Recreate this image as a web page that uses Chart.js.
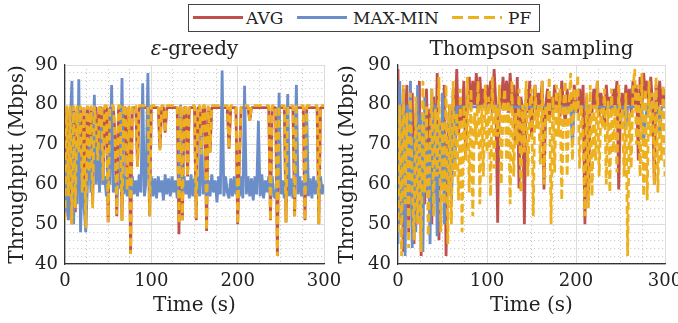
<!DOCTYPE html>
<html>
<head>
<meta charset="utf-8">
<script src="https://cdn.jsdelivr.net/npm/chart.js@4.4.1/dist/chart.umd.min.js"></script>
<style>
  html, body { margin: 0; padding: 0; background: #fff; overflow: hidden; }
  body { width: 678px; height: 323px; position: relative; font-family: "DejaVu Serif", "Liberation Serif", serif; }
  .panel { position: absolute; top: 0; height: 323px; }
  #legend { position: absolute; left: 188px; top: 4px; width: 352px; height: 28px; box-sizing: border-box;
            border: 1px solid #444; background: #fff; z-index: 5; font-size: 17px; color: #222; }
  .key { position: absolute; top: 11px; height: 2.5px; width: 50px; }
  .lab { position: absolute; top: 1px; line-height: 24px; }
</style>
</head>
<body>
<div id="legend">
  <div class="key" style="left:4px;background:#C0504D"></div><div class="lab" style="left:57px">AVG</div>
  <div class="key" style="left:108px;background:#6C8EC8"></div><div class="lab" style="left:164px">MAX-MIN</div>
  <div class="key" style="left:263px;background:repeating-linear-gradient(to right,#EDB120 0 11px,transparent 11px 16px)"></div><div class="lab" style="left:319px">PF</div>
</div>
<div class="panel" style="left:0;width:345px"><canvas id="epsChart"></canvas></div>
<div class="panel" style="left:332px;width:354px"><canvas id="tsChart"></canvas></div>
<script>
const STEP = 2; // seconds between samples
const FONT = '"DejaVu Serif", "Liberation Serif", serif';

// epsilon-greedy
const avgEps = [
  52, 79.3, 56, 79.3, 50, 79.3, 53, 79.3, 70, 79.3,
  57, 79.3, 49, 79.3, 62, 79.3, 55, 79.3, 79.3, 66,
  79.3, 79.3, 60, 79.3, 79.3, 50.5, 79.3, 79.3, 79.3, 72,
  52, 79.3, 79.3, 51, 79.3, 79.3, 59, 79.3, 42.5, 79.3,
  79.3, 79.3, 64.5, 79.3, 79.3, 79.3, 79.3, 79.3, 79.3, 52,
  79.3, 79.3, 79.3, 79.3, 79.3, 69, 79.3, 79.3, 73, 79.3,
  79.3, 79.3, 79.3, 79.3, 79.3, 79.3, 47.5, 79.3, 51, 79.3,
  79.3, 62, 79.3, 79.3, 79.3, 79.3, 51, 79.3, 79.3, 67.5,
  79.3, 79.3, 48.3, 79.3, 68, 79.3, 79.3, 79.3, 79.3, 79.3,
  79.3, 79.3, 79.3, 79.3, 79.3, 69, 79.3, 79.3, 79.3, 79.3,
  50, 66, 79.3, 79.3, 79.3, 79.3, 79.3, 76, 79.3, 79.3,
  79.3, 79.3, 79.3, 79.3, 79.3, 79.3, 79.3, 79.3, 79.3, 51,
  79.3, 79.3, 79.3, 42, 79.3, 79.3, 79.3, 79.3, 50.5, 79.3,
  79.3, 79.3, 79.3, 52, 79.3, 79.3, 79.3, 79.3, 79.3, 51,
  79.3, 79.3, 79.3, 79.3, 79.3, 79.3, 79.3, 50, 79.3, 79.3,
  79.3
];
const maxMinEps = [
  52, 66, 51, 74, 86, 50, 70, 55, 86.4, 48,
  62, 55, 48, 60, 72, 58, 65, 82.5, 60, 70,
  58, 75, 60, 62, 57, 68, 60, 85, 58, 62,
  57, 60, 59, 86.7, 57.5, 62, 57, 61.5, 56.5, 62,
  57.5, 61, 57, 62.5, 58, 85.4, 57, 61, 88, 57.5,
  62, 57, 61.5, 56.5, 62, 58, 61, 56, 62.5, 57.5,
  61.5, 57, 62, 58, 61, 56.5, 62, 80, 57, 62,
  57.5, 61, 56.5, 62.5, 57, 61.5, 58, 62, 57, 74.6,
  57.5, 62, 56.5, 61, 57, 62.5, 58, 61, 55.5, 62,
  57.5, 88.6, 57, 62, 58, 56.5, 61.5, 57, 62, 57.5,
  61.5, 57, 62, 56.5, 84.8, 57.5, 62, 57, 61.5, 56,
  62, 57.5, 76, 57, 62.5, 56.5, 61, 58, 62, 57,
  62, 57, 56.5, 61.5, 83, 57.5, 61, 56.5, 62, 82.7,
  57, 61.5, 56.5, 62, 85, 57.5, 62, 57, 61, 57.5,
  78, 57, 61.5, 56.5, 62, 57.5, 61, 57, 62, 57.5,
  60
];
const pfEps = [
  51, 79.8, 57, 79.8, 50, 79.8, 54, 79.8, 68, 79.8,
  58, 79.8, 49, 79.8, 63, 79.8, 54, 79.8, 75, 66,
  79.8, 79.8, 61, 79.8, 79.8, 50.5, 79.8, 79.8, 79.8, 71,
  52.5, 79.8, 79.8, 50.8, 79.8, 79.8, 58.5, 79.8, 42.5, 79.8,
  79.8, 79.8, 64.5, 79.8, 79.8, 79.8, 79.8, 79.8, 79.8, 52,
  79.8, 79.8, 79.8, 79.8, 79.8, 68.5, 79.8, 79.8, 73, 79.8,
  79.8, 79.8, 79.8, 79.8, 79.8, 79.8, 50, 79.8, 51, 79.8,
  79.8, 62, 79.8, 79.8, 79.8, 79.8, 51.5, 79.8, 79.8, 67.5,
  79.8, 79.8, 48.5, 79.8, 68, 79.8, 79.8, 79.8, 79.8, 79.8,
  79.8, 79.8, 79.8, 79.8, 79.8, 69, 79.8, 79.8, 79.8, 79.8,
  50, 66, 79.8, 79.8, 79.8, 79.8, 79.8, 76, 79.8, 79.8,
  79.8, 79.8, 79.8, 79.8, 79.8, 79.8, 79.8, 79.8, 79.8, 50.8,
  79.8, 79.8, 79.8, 42, 79.8, 79.8, 79.8, 79.8, 50.4, 79.8,
  79.8, 79.8, 79.8, 52, 79.8, 79.8, 79.8, 79.8, 79.8, 51,
  79.8, 79.8, 79.8, 79.8, 79.8, 79.8, 79.8, 50, 79.8, 79.8,
  79.8
];

// Thompson sampling
const avgTs = [
  89, 50, 80, 43, 75, 85, 48, 70, 83, 45,
  78, 60, 86, 42, 72, 55, 84, 65, 79, 50,
  82, 58, 88, 46, 76, 62, 85, 42, 70, 80,
  55, 84, 74, 89, 72.5, 80, 76, 86, 67, 82,
  87, 79, 86, 80, 88, 78, 87, 79, 84, 80,
  85, 79, 86, 78, 89, 80, 50.4, 84, 79, 87,
  80, 86, 78, 88, 79, 85, 70, 87, 59, 82,
  79, 50, 84, 78, 86, 72, 80, 85, 77, 83,
  79, 86, 58.75, 80, 84, 76, 82, 78, 85, 79,
  83, 77, 86, 80, 75, 84, 79, 82, 76, 85,
  80, 78, 84, 79, 85, 50, 82, 56, 80, 78,
  84, 79, 86, 77, 83, 80, 75, 85, 79, 82,
  78, 84, 80, 86, 58.75, 79, 83, 77, 85, 80,
  84, 78, 86, 80, 85, 66, 87, 79, 88, 82,
  86, 79, 87, 80, 60, 85, 78, 86, 80, 84,
  80
];
const maxMinTs = [
  45, 86, 50, 84, 42, 80, 55, 86, 44, 72,
  48, 85, 52, 78, 43, 82, 58, 70, 45, 84,
  55, 80, 47, 75, 60, 83, 50, 68, 62, 79,
  55, 79.5, 65, 79.5, 79.5, 79.5, 79.5, 79.5, 79.5, 79.5,
  79.5, 79.5, 79.5, 79.5, 79.5, 79.5, 79.5, 79.5, 79.5, 79.5,
  79.5, 79.5, 79.5, 79.5, 79.5, 79.5, 79.5, 79.5, 79.5, 79.5,
  79.5, 79.5, 79.5, 79.5, 79.5, 79.5, 79.5, 79.5, 79.5, 79.5,
  79.5, 79.5, 79.5, 79.5, 79.5, 79.5, 79.5, 79.5, 79.5, 79.5,
  79.5, 79.5, 79.5, 79.5, 79.5, 79.5, 79.5, 79.5, 79.5, 79.5,
  79.5, 79.5, 79.5, 79.5, 79.5, 79.5, 79.5, 79.5, 70, 79.5,
  79.5, 79.5, 79.5, 79.5, 79.5, 79.5, 79.5, 79.5, 79.5, 79.5,
  79.5, 79.5, 79.5, 79.5, 79.5, 79.5, 79.5, 79.5, 79.5, 79.5,
  79.5, 79.5, 79.5, 79.5, 79.5, 79.5, 79.5, 79.5, 74, 79.5,
  79.5, 79.5, 79.5, 79.5, 79.5, 79.5, 79.5, 79.5, 70.5, 76,
  79.5, 79.5, 79.5, 79.5, 79.5, 79.5, 79.5, 73, 79.5, 79.5,
  79.5
];
const pfTs = [
  48, 80, 42, 85, 55, 78, 44, 83, 60, 46,
  82, 50, 75, 43, 86, 58, 80, 47, 70, 84,
  52, 79, 62, 87, 48, 76, 55, 85, 45, 80,
  50, 86, 62, 78, 56, 84, 48, 80, 66, 87,
  58, 84, 52, 78, 70, 86, 55, 80, 62, 85,
  68, 82, 57, 87, 64, 80, 72, 85, 60, 79,
  84, 66, 81, 55, 86, 62, 78, 70, 84, 58,
  80, 68, 86, 62, 79, 84, 52, 85, 74, 80,
  65, 86, 60, 80, 76, 87, 50, 82, 63, 85,
  72, 84, 56, 80, 86, 62, 79, 88, 66, 84,
  78, 87.5, 64, 80, 72, 52, 83, 54, 85, 57,
  80, 66, 86, 62, 79, 74, 84, 60, 81, 58,
  84, 68, 80, 63, 85, 74, 79, 62, 83, 42,
  78, 64, 84, 89, 70, 85, 62, 88, 57, 84,
  56, 86, 72, 83, 60, 87, 58, 80, 66, 85,
  62
];

const RED = '#C0504D', BLUE = '#6C8EC8', ORANGE = '#EDB120';
const TEXT = '#222';

const toPoints = arr => arr.map((v, i) => ({ x: i * STEP, y: v }));

// title above each panel, centred on the plot area; parts may be italic
const panelTitle = {
  id: 'panelTitle',
  afterDraw(chart, args, opts) {
    const { ctx, chartArea } = chart;
    const parts = opts.parts;
    ctx.save();
    ctx.fillStyle = TEXT;
    ctx.textBaseline = 'alphabetic';
    ctx.textAlign = 'left';
    const fontOf = p => (p.italic ? 'italic ' : '') + '20px ' + FONT;
    let total = 0;
    parts.forEach(p => { ctx.font = fontOf(p); total += ctx.measureText(p.text).width; });
    let x = (chartArea.left + chartArea.right) / 2 - total / 2;
    parts.forEach(p => {
      ctx.font = fontOf(p);
      ctx.fillText(p.text, x, 55);
      x += ctx.measureText(p.text).width;
    });
    ctx.restore();
  }
};

function makeChart(canvasId, titleParts, series, yWidth, yTitlePad) {
  const [avg, maxMin, pf] = series;
  const isMinor = ctx => ctx.tick && ctx.tick.value % (ctx.scale.axis === 'x' ? 100 : 10) !== 0;
  return new Chart(document.getElementById(canvasId).getContext('2d'), {
    type: 'line',
    data: {
      datasets: [
        { label: 'AVG', data: toPoints(avg), borderColor: RED, order: 3 },
        { label: 'MAX-MIN', data: toPoints(maxMin), borderColor: BLUE, order: 2 },
        { label: 'PF', data: toPoints(pf), borderColor: ORANGE, borderDash: [8, 4], order: 1 }
      ]
    },
    options: {
      responsive: true,
      maintainAspectRatio: false,
      animation: false,
      layout: { padding: { top: 65, right: 21, left: 0, bottom: 0 } },
      elements: {
        point: { radius: 0 },
        line: { borderWidth: 2.8, tension: 0, borderJoinStyle: 'bevel' }
      },
      plugins: {
        legend: { display: false },
        tooltip: { enabled: false },
        panelTitle: { parts: titleParts }
      },
      scales: {
        x: {
          type: 'linear', min: 0, max: 300,
          afterFit: s => { s.height = 59; s.paddingLeft = 0; s.paddingRight = 0; },
          ticks: {
            stepSize: 25, autoSkip: false, maxRotation: 0, padding: 7,
            color: TEXT, font: { family: FONT, size: 18 },
            callback: v => v % 100 === 0 ? v : ''
          },
          grid: { drawTicks: false, color: ctx => isMinor(ctx) ? '#c4c4c4' : '#dcdcdc', lineWidth: 1 },
          border: { color: '#333', width: 1.2, dash: ctx => isMinor(ctx) ? [1, 3] : [] },
          title: {
            display: true, text: 'Time (s)', color: TEXT,
            font: { family: FONT, size: 20, lineHeight: 1 },
            padding: { top: 0, bottom: 7 }
          }
        },
        y: {
          min: 40, max: 90,
          afterFit: s => { s.width = yWidth; },
          ticks: {
            stepSize: 2, autoSkip: false, padding: 7,
            color: TEXT, font: { family: FONT, size: 18 },
            callback: v => v % 10 === 0 ? v : ''
          },
          grid: { drawTicks: false, color: ctx => isMinor(ctx) ? '#c4c4c4' : '#dcdcdc', lineWidth: 1 },
          border: { color: '#333', width: 1.2, dash: ctx => isMinor(ctx) ? [1, 3] : [] },
          title: {
            display: true, text: 'Throughput (Mbps)', color: TEXT,
            font: { family: FONT, size: 20, lineHeight: 1 },
            padding: { top: yTitlePad, bottom: 0 }
          }
        }
      }
    },
    plugins: [panelTitle]
  });
}

makeChart('epsChart', [{ text: 'ε', italic: true }, { text: '-greedy' }], [avgEps, maxMinEps, pfEps], 65, 8);
makeChart('tsChart', [{ text: 'Thompson sampling' }], [avgTs, maxMinTs, pfTs], 66, 6);
</script>
</body>
</html>
